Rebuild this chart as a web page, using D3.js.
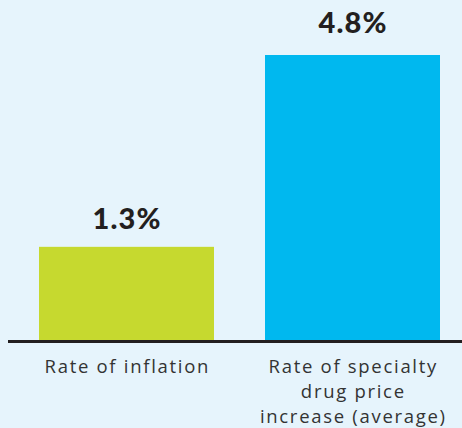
<!DOCTYPE html>
<html>
<head>
<meta charset="utf-8">
<script src="https://cdn.jsdelivr.net/npm/d3@7"></script>
<style>
  html, body { margin: 0; padding: 0; background: #e6f4fc; }
  svg { display: block; }
</style>
</head>
<body>
<svg id="chart"></svg>
<script>
const width = 462;
const height = 428;

// data
const categories = ['Rate of inflation', 'Rate of specialty drug price increase (average)'];
const labelLines = [['Rate of inflation'], ['Rate of specialty', 'drug price', 'increase (average)']];
const values = [1.3, 4.8];
const valueLabels = ['1.3%', '4.8%'];
const colours = ['#c6d92f', '#00b8ef'];

const svg = d3.select('#chart')
    .attr('width', width)
    .attr('height', height);

svg.append('rect')
    .attr('width', width)
    .attr('height', height)
    .attr('fill', '#e6f4fc');

const scaleX = d3.scaleBand()
    .domain(categories)
    .range([39, 440])
    .paddingInner(0.2257)
    .paddingOuter(0);

// the original chart does not start its bars at zero
const scaleY = d3.scaleLinear()
    .domain([-0.4, 4.8])
    .range([340, 55]);

const midX = (d, i) => scaleX(categories[i]) + scaleX.bandwidth() / 2;

svg.selectAll('rect.bar')
  .data(values)
  .enter()
  .append('rect')
    .attr('class', 'bar')
    .attr('x', (d, i) => scaleX(categories[i]))
    .attr('y', d => scaleY(d))
    .attr('width', scaleX.bandwidth())
    .attr('height', d => scaleY(-0.4) - scaleY(d))
    .attr('fill', (d, i) => colours[i]);

svg.selectAll('text.value')
  .data(values)
  .enter()
  .append('text')
    .attr('class', 'value')
    .attr('x', (d, i) => midX(d, i) + 0.6)
    .attr('y', (d, i) => scaleY(d) - (i ? 22 : 18))
    .attr('text-anchor', 'middle')
    .attr('font-family', 'Lato, "DejaVu Sans", sans-serif')
    .attr('font-weight', 900)
    .attr('font-size', 29)
    .attr('letter-spacing', 1.2)
    .attr('fill', '#231f20')
    .text((d, i) => valueLabels[i]);

// baseline
svg.append('line')
    .attr('x1', 8)
    .attr('x2', width)
    .attr('y1', scaleY(-0.4) + 1.5)
    .attr('y2', scaleY(-0.4) + 1.5)
    .attr('stroke', '#231f20')
    .attr('stroke-width', 3);

const cats = svg.selectAll('text.cat')
  .data(categories)
  .enter()
  .append('text')
    .attr('class', 'cat')
    .attr('text-anchor', 'middle')
    .attr('font-family', '"Open Sans", sans-serif')
    .attr('font-size', 18.5)
    .attr('letter-spacing', 1.7)
    .attr('fill', '#333333');

cats.selectAll('tspan')
  .data((d, i) => labelLines[i].map(t => ({ t, x: midX(null, i) + 0.8 })))
  .enter()
  .append('tspan')
    .attr('x', d => d.x)
    .attr('y', (d, j) => 373 + j * 25)
    .text(d => d.t);
</script>
</body>
</html>
